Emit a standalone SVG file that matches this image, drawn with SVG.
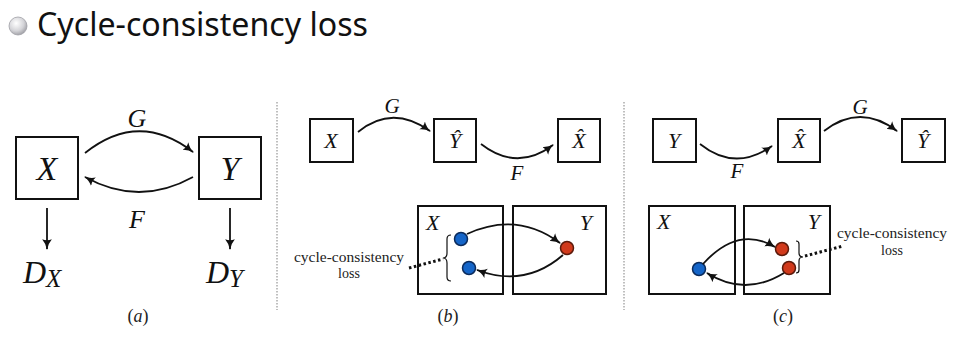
<svg xmlns="http://www.w3.org/2000/svg" width="962" height="360" viewBox="0 0 962 360">
<style>
.box{fill:none;stroke:#111;stroke-width:2}
.arc{fill:none;stroke:#111;stroke-width:1.8}
.m{font-style:italic;fill:#111}
.lbl{font-size:14px;fill:#222;text-anchor:middle}
.cap{font-size:18px;fill:#222;text-anchor:middle}
.sep{stroke:#aaa;stroke-width:1.5;stroke-dasharray:1.5 1.5}
.dot{stroke:#111;stroke-width:3;stroke-dasharray:2.5 2.5}
.brace{fill:none;stroke:#111;stroke-width:1.2}
.blue{fill:#1565c8;stroke:#0b2b5c;stroke-width:1.5}
.red{fill:#d13a1c;stroke:#5c1a0b;stroke-width:1.5}
</style>
<defs>
<marker id="ah" viewBox="0 0 10 10" refX="9" refY="5" markerWidth="6" markerHeight="6" markerUnits="strokeWidth" orient="auto">
<path d="M0,0.5 Q4,4 10,5 Q4,6 0,9.5 Q2,5 0,0.5 z" fill="#111"/>
</marker>
<radialGradient id="bul" cx="0.4" cy="0.35" r="0.7">
<stop offset="0" stop-color="#ffffff"/>
<stop offset="0.6" stop-color="#d4d4d8"/>
<stop offset="1" stop-color="#9a9aa0"/>
</radialGradient>
</defs>
<rect width="962" height="360" fill="#fff"/>

<g id="title">
<circle cx="18" cy="26" r="9" fill="url(#bul)" stroke="#a0a0a6" stroke-width="0.8"/>
<text x="37" y="36" font-family="Noto Sans, sans-serif" font-size="33" fill="#111" textLength="331" lengthAdjust="spacingAndGlyphs">Cycle-consistency loss</text>
</g>

<g id="separators">
<line class="sep" x1="277" y1="102" x2="277" y2="310"/>
<line class="sep" x1="624" y1="102" x2="624" y2="310"/>
</g>

<g font-family="Liberation Serif, DejaVu Serif, serif">
<!-- panel a -->
<g id="a-X"><rect class="box" x="16" y="137" width="62" height="62"/><text class="m" x="47" y="180" font-size="34" text-anchor="middle">X</text></g>
<g id="a-Y"><rect class="box" x="199" y="137" width="62" height="62"/><text class="m" x="230" y="180" font-size="34" text-anchor="middle">Y</text></g>
<g id="a-DX"><text class="m" x="23" y="283" font-size="32">D<tspan font-size="25" dy="4">X</tspan></text></g>
<g id="a-DY"><text class="m" x="206" y="283" font-size="32">D<tspan font-size="25" dy="4">Y</tspan></text></g>
<g id="a-caption"><text class="cap" x="138" y="322">(<tspan font-style="italic">a</tspan>)</text></g>

<!-- panel b -->
<g id="b-X"><rect class="box" x="310" y="119" width="43" height="43"/><text class="m" x="331" y="148" font-size="22" text-anchor="middle">X</text></g>
<g id="b-Yhat"><rect class="box" x="434" y="119" width="42" height="43"/><text class="m" x="455" y="148" font-size="22" text-anchor="middle">Ŷ</text></g>
<g id="b-Xhat"><rect class="box" x="558" y="119" width="42" height="43"/><text class="m" x="579" y="148" font-size="22" text-anchor="middle">X̂</text></g>
<g id="b-domX"><rect class="box" x="418" y="206" width="85" height="88"/><text class="m" x="426" y="230" font-size="22">X</text>
<circle class="blue" cx="461" cy="239" r="6.5"/><circle class="blue" cx="469" cy="268" r="6.5"/></g>
<g id="b-domY"><rect class="box" x="513" y="206" width="93" height="88"/><text class="m" x="592" y="230" font-size="22" text-anchor="end">Y</text>
<circle class="red" cx="567" cy="248" r="6.5"/></g>
<g id="b-loss">
<path class="brace" d="M451,235 q-4,0 -4,4 v14 q0,5 -4,5 q4,0 4,5 v14 q0,4 4,4"/>
<line class="dot" x1="409" y1="268" x2="443" y2="259"/>
<text class="lbl" x="349" y="262" textLength="110" lengthAdjust="spacingAndGlyphs">cycle-consistency</text>
<text class="lbl" x="349" y="278">loss</text>
</g>
<g id="b-caption"><text class="cap" x="448" y="322">(<tspan font-style="italic">b</tspan>)</text></g>

<!-- panel c -->
<g id="c-Y"><rect class="box" x="653" y="119" width="43" height="43"/><text class="m" x="674" y="148" font-size="22" text-anchor="middle">Y</text></g>
<g id="c-Xhat"><rect class="box" x="778" y="119" width="42" height="43"/><text class="m" x="799" y="148" font-size="22" text-anchor="middle">X̂</text></g>
<g id="c-Yhat"><rect class="box" x="902" y="119" width="43" height="43"/><text class="m" x="923" y="148" font-size="22" text-anchor="middle">Ŷ</text></g>
<g id="c-domX"><rect class="box" x="649" y="206" width="86" height="88"/><text class="m" x="657" y="229" font-size="22">X</text>
<circle class="blue" cx="699" cy="269" r="6.5"/></g>
<g id="c-domY"><rect class="box" x="744" y="206" width="86" height="88"/><text class="m" x="820" y="229" font-size="22" text-anchor="end">Y</text>
<circle class="red" cx="782" cy="249" r="6.5"/><circle class="red" cx="789" cy="268" r="6.5"/></g>
<g id="c-loss">
<path class="brace" d="M796,241 q3,0 3,3 v9 q0,4 4,4 q-4,0 -4,4 v9 q0,3 -3,3"/>
<line class="dot" x1="805" y1="256" x2="843" y2="246"/>
<text class="lbl" x="892" y="238" textLength="110" lengthAdjust="spacingAndGlyphs">cycle-consistency</text>
<text class="lbl" x="892" y="255">loss</text>
</g>
<g id="c-caption"><text class="cap" x="783" y="322">(<tspan font-style="italic">c</tspan>)</text></g>

<g id="edge-labels">
<text class="m" x="137" y="127" font-size="26" text-anchor="middle">G</text>
<text class="m" x="137" y="228" font-size="26" text-anchor="middle">F</text>
<text class="m" x="392" y="113" font-size="21" text-anchor="middle">G</text>
<text class="m" x="517" y="180" font-size="21" text-anchor="middle">F</text>
<text class="m" x="737" y="178" font-size="21" text-anchor="middle">F</text>
<text class="m" x="860" y="114" font-size="21" text-anchor="middle">G</text>
</g>
</g>

<g id="connectors">
<path class="arc" marker-end="url(#ah)" d="M85,153 Q139,110 193,152"/>
<path class="arc" marker-end="url(#ah)" d="M193,177 Q139,207 85,177"/>
<line class="arc" marker-end="url(#ah)" x1="47" y1="208" x2="47" y2="249"/>
<line class="arc" marker-end="url(#ah)" x1="230" y1="208" x2="230" y2="249"/>
<path class="arc" marker-end="url(#ah)" d="M358,132 Q392,104 430,131"/>
<path class="arc" marker-end="url(#ah)" d="M481,144 Q517,172 553,145"/>
<path class="arc" marker-end="url(#ah)" d="M467,234 Q517,211 560,243"/>
<path class="arc" marker-end="url(#ah)" d="M563,255 Q525,288 477,270"/>
<path class="arc" marker-end="url(#ah)" d="M700,144 Q735,172 772,146"/>
<path class="arc" marker-end="url(#ah)" d="M824,131 Q860,103 897,131"/>
<path class="arc" marker-end="url(#ah)" d="M703,264 Q738,225 775,247"/>
<path class="arc" marker-end="url(#ah)" d="M784,273 Q745,297 707,273"/>
</g>
</svg>
